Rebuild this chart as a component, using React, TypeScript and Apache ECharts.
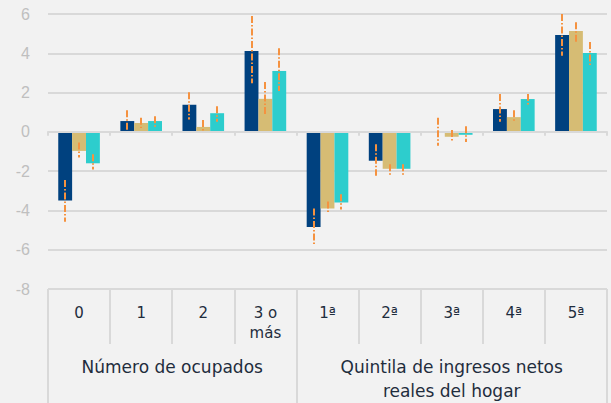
import React, { useEffect, useRef } from "react";
import * as echarts from "echarts";

const categories = ["0", "1", "2", "3 o\nmás", "1ª", "2ª", "3ª", "4ª", "5ª"];
const groupLabels = ["Número de ocupados", "Quintila de ingresos netos\nreales del hogar"];
const groupCenters = [2, 6.5];
const groupBounds = [0, 4, 9];

const seriesNames = ["A", "B", "C"];
const valuesA = [-3.5, 0.55, 1.38, 4.12, -4.84, -1.47, 0.03, 1.16, 4.93];
const valuesB = [-0.97, 0.45, 0.25, 1.68, -3.9, -1.88, -0.25, 0.75, 5.14];
const valuesC = [-1.6, 0.55, 0.95, 3.1, -3.6, -1.88, -0.15, 1.67, 4.02];

const lowA = [-4.57, 0.05, 0.63, 2.47, -5.79, -2.24, -0.71, 0.51, 3.88];
const highA = [-2.45, 1.1, 2.02, 5.9, -3.9, -0.63, 0.72, 1.93, 6.0];
const lowB = [-1.3, 0.2, 0.05, 0.9, -4.16, -2.24, -0.51, 0.51, 4.59];
const highB = [-0.54, 0.72, 0.6, 2.54, -3.55, -1.65, 0.09, 1.1, 5.58];
const lowC = [-1.92, 0.24, 0.51, 2.08, -3.95, -2.24, -0.51, 1.33, 3.39];
const highC = [-1.14, 0.8, 1.31, 4.26, -3.17, -1.65, 0.29, 1.93, 4.58];

const yTicks = { min: -8, max: 6, interval: 2 };

const colors = ["#00417F", "#D6BC74", "#2DCDCD"];
const errColor = "#F59240";
const gridColor = "#D9D9D9";
const CAT_GAP = 0.33;

export default function App() {
  const ref = useRef<HTMLDivElement>(null);
  useEffect(() => {
    if (!ref.current) return;
    const chart = echarts.init(ref.current, undefined, { renderer: "svg" });
    const values = [valuesA, valuesB, valuesC];
    const lows = [lowA, lowB, lowC];
    const highs = [highA, highB, highC];
    const errData: number[][] = [];
    for (let s = 0; s < 3; s++) {
      for (let i = 0; i < categories.length; i++) {
        errData.push([i, s, lows[s][i], highs[s][i]]);
      }
    }
    const barSeries = values.map((v, s) => ({
      type: "bar",
      name: seriesNames[s],
      xAxisIndex: 0,
      yAxisIndex: 0,
      data: v,
      barGap: "0%",
      barCategoryGap: CAT_GAP * 100 + "%",
      itemStyle: { color: colors[s] },
    }));
    chart.setOption({
      animation: false,
      backgroundColor: "#F2F2F2",
      grid: { left: 48, right: 4, top: 14, bottom: 114, containLabel: false },
      xAxis: [
        {
          type: "category",
          data: categories,
          gridIndex: 0,
          position: "bottom",
          z: 5,
          axisLine: { show: true, onZero: true, lineStyle: { color: gridColor, width: 2 } },
          axisTick: { show: true, interval: 0, length: 4, lineStyle: { color: gridColor, width: 2 } },
          axisLabel: { show: false },
          splitLine: { show: false },
        },
        {
          type: "category",
          data: categories,
          gridIndex: 0,
          position: "bottom",
          axisLine: { show: false, onZero: false },
          axisTick: { show: true, interval: 0, length: 55, lineStyle: { color: gridColor, width: 2 } },
          axisLabel: {
            show: true,
            interval: 0,
            margin: 14,
            color: "#1F2D3D",
            fontFamily: "DejaVu Sans",
            fontSize: 15,
            lineHeight: 20,
            verticalAlign: "top",
          },
          splitLine: { show: false },
        },
        {
          type: "value",
          gridIndex: 0,
          position: "bottom",
          min: 0,
          max: 9,
          axisLine: { show: false, onZero: false },
          axisTick: {
            show: true,
            length: 114,
            customValues: groupBounds,
            lineStyle: { color: gridColor, width: 2 },
          },
          axisLabel: {
            show: true,
            margin: 66,
            customValues: groupCenters,
            formatter: (v: number) => groupLabels[groupCenters.indexOf(v)] ?? "",
            color: "#1F2D3D",
            fontFamily: "DejaVu Sans",
            fontSize: 17,
            lineHeight: 24,
            verticalAlign: "top",
            align: "center",
          },
          splitLine: { show: false },
        },
      ],
      yAxis: {
        type: "value",
        min: yTicks.min,
        max: yTicks.max,
        interval: yTicks.interval,
        axisLine: { show: false },
        axisTick: { show: false },
        axisLabel: {
          color: "#BFBFBF",
          fontFamily: "Liberation Sans",
          fontSize: 16,
          margin: 18,
        },
        splitLine: { show: true, lineStyle: { color: gridColor, width: 2 } },
      },
      series: [
        ...barSeries,
        {
          type: "custom",
          xAxisIndex: 0,
          yAxisIndex: 0,
          data: errData,
          z: 10,
          renderItem: (params: any, api: any) => {
            const idx = api.value(0);
            const s = api.value(1);
            const band = api.size([1, 0])[0];
            const bw = (band * (1 - CAT_GAP)) / 3;
            const cx = Math.round(api.coord([idx, 0])[0] + (s - 1) * bw);
            const y1 = api.coord([idx, api.value(2)])[1];
            const y2 = api.coord([idx, api.value(3)])[1];
            return {
              type: "line",
              shape: { x1: cx, y1: y2, x2: cx, y2: y1 },
              style: { stroke: errColor, lineWidth: 2, lineDash: [7, 2, 1.5, 2] },
            };
          },
        },
      ],
    });
    return () => chart.dispose();
  }, []);
  return (
    <div
      ref={ref}
      style={{ position: "fixed", left: 0, top: 0, width: 611, height: 403, background: "#F2F2F2" }}
    />
  );
}
